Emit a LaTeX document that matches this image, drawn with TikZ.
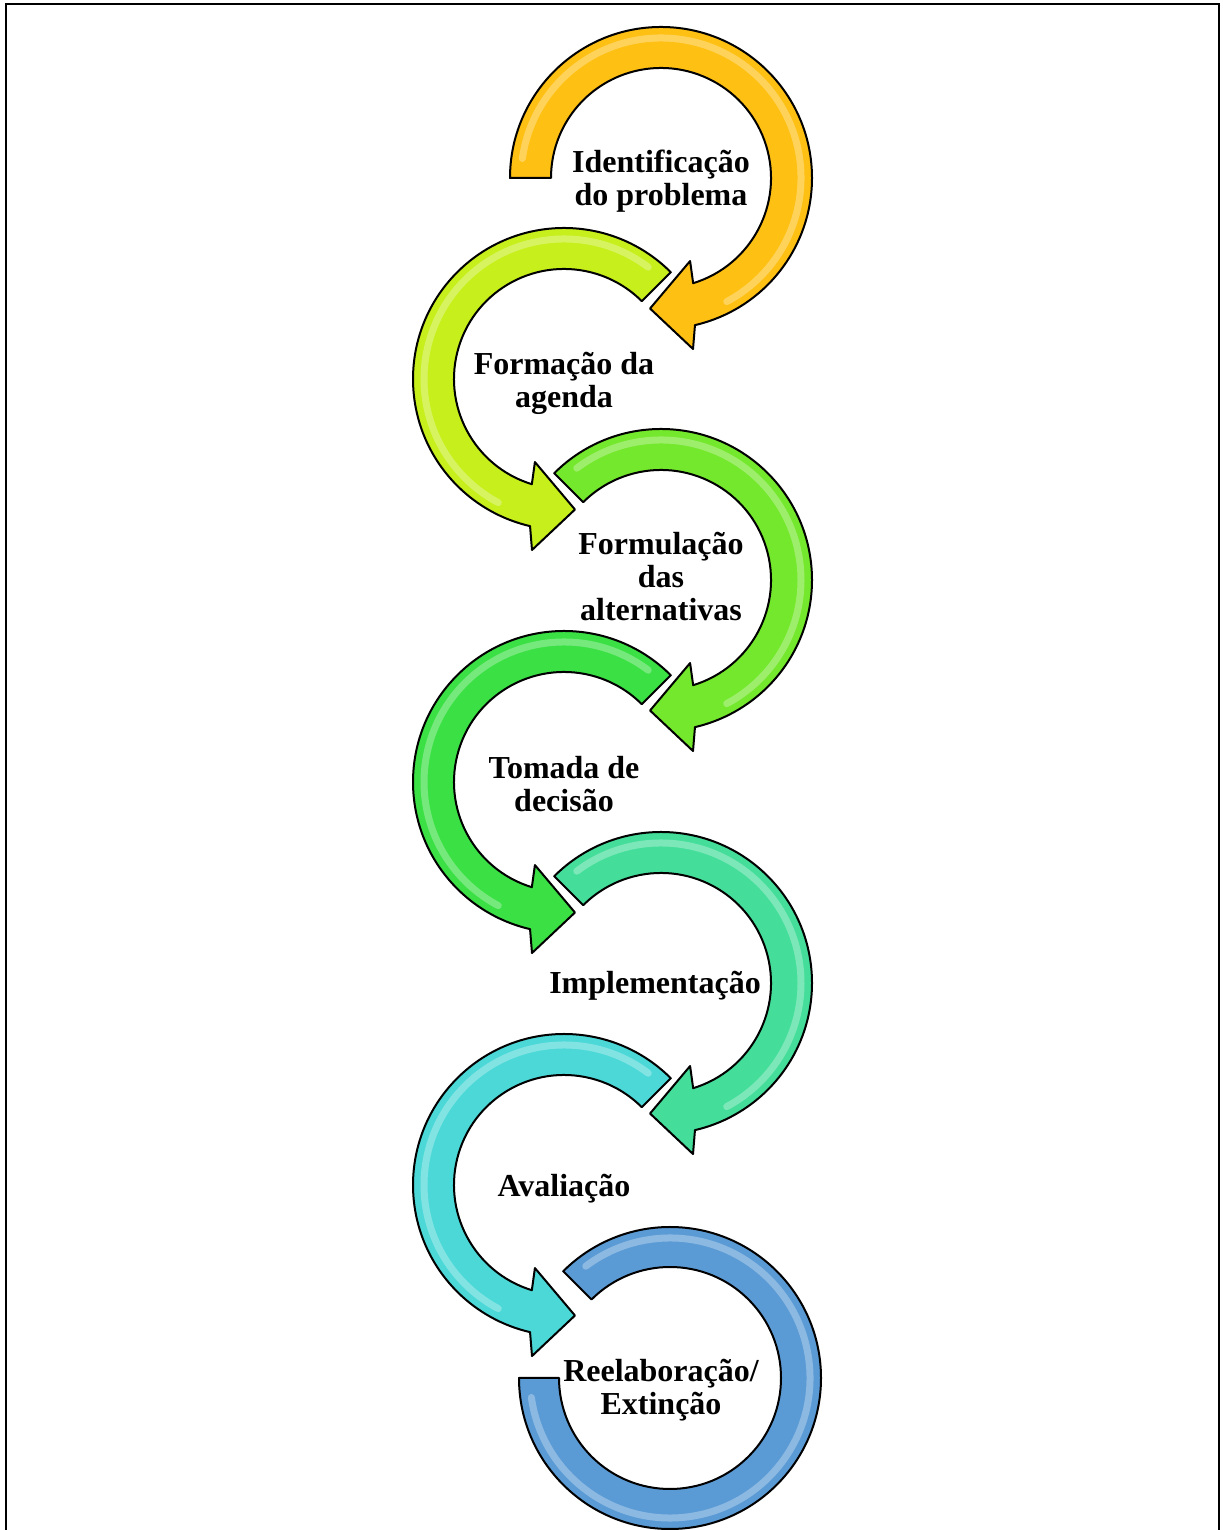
\documentclass[tikz,border=0pt]{standalone}
\usepackage{fontspec}
\setmainfont{Liberation Serif}
\usepackage{tikz}
\usetikzlibrary{positioning}
\usepackage{xcolor}

\definecolor{ambar}{HTML}{FFC014}
\definecolor{lima}{HTML}{C6EF1C}
\definecolor{verdeclaro}{HTML}{74E82C}
\definecolor{verde}{HTML}{3BE045}
\definecolor{turquesa}{HTML}{44DE9A}
\definecolor{ciano}{HTML}{4DD8D8}
\definecolor{azul}{HTML}{5B9BD5}

\begin{document}
\begin{tikzpicture}[
        x=0.5pt, y=0.5pt,
        stage/.style={font=\fontsize{16}{16.5}\selectfont\bfseries, align=center, inner sep=0pt},
        band/.style={draw=black, line width=1pt, line join=round},
        gloss/.style={draw=white, line width=3.5pt, opacity=0.3, line cap=round},
        cwarrow/.pic={
            \path[band, pic actions] (#1:151) arc[start angle=#1, end angle=-77, radius=151]
                -- (-79.4:174) -- (-94.8:131) -- (-70.7:88) -- (-73:110)
                arc[start angle=-73, end angle=#1, radius=110] -- cycle;
            \path[gloss] (#1-8:140) arc[start angle=#1-8, end angle=-62, radius=140];
        },
        ccwarrow/.pic={
            \path[band, pic actions] (#1:151) arc[start angle=#1, end angle=257, radius=151]
                -- (259.4:174) -- (274.8:131) -- (250.7:88) -- (253:110)
                arc[start angle=253, end angle=#1, radius=110] -- cycle;
            \path[gloss] (#1+8:140) arc[start angle=#1+8, end angle=242, radius=140];
        },
        ringarc/.pic={
            \path[band, pic actions] (180:151) arc[start angle=180, end angle=495, radius=151]
                -- (495:111) arc[start angle=495, end angle=180, radius=111] -- cycle;
            \path[gloss] (188:140) arc[start angle=188, end angle=487, radius=140];
        }
    ]
        \clip (0,0) rectangle (1222,1530);
        \useasboundingbox (0,0) rectangle (1222,1530);

        % frame
        \draw[line width=1pt] (5.5,1526) rectangle (1219,-20);

        % the seven stages
        \pic (arr1) [fill=ambar] at (661,1352) {cwarrow=180};
        \pic (arr2) [fill=lima] at (564,1151) {ccwarrow=45};
        \pic (arr3) [fill=verdeclaro] at (661,950) {cwarrow=135};
        \pic (arr4) [fill=verde] at (564,748) {ccwarrow=45};
        \pic (arr5) [fill=turquesa] at (661,547) {cwarrow=135};
        \pic (arr6) [fill=ciano] at (564,345) {ccwarrow=45};
        \pic (arr7) [fill=azul] at (670,152) {ringarc};

        \node[stage] (ident) at (661,1349) {Identificação\\do problema};
        \node[stage] (agenda) at (564,1147) {Formação da\\agenda};
        \node[stage] (formul) at (661,953) {Formulação\\das\\alternativas};
        \node[stage] (decisao) at (564,746) {Tomada de\\decisão};
        \node[stage] (implem) at (655,544) {Implementação};
        \node[stage] (aval) at (564,341) {Avaliação};
        \node[stage] (reelab) at (661,140) {Reelaboração/\\Extinção};
    \end{tikzpicture}
\end{document}
